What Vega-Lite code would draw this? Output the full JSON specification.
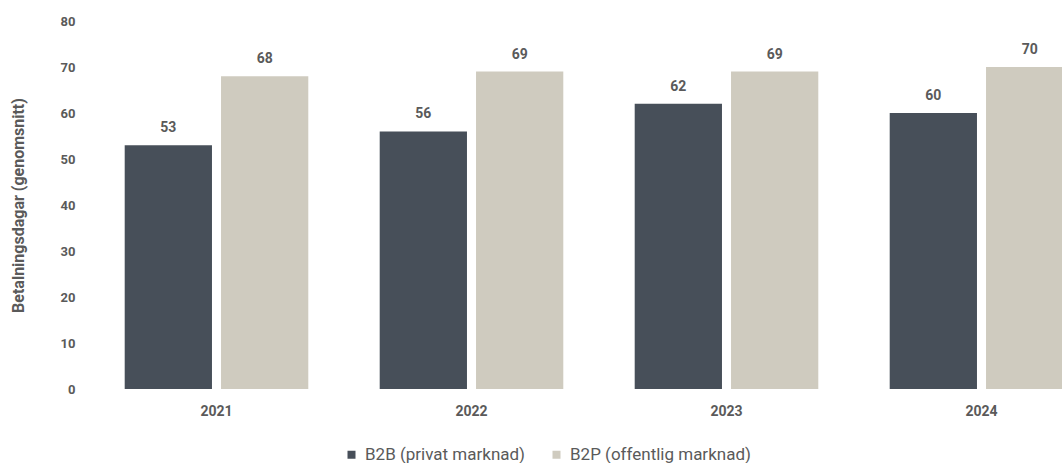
{
  "$schema": "https://vega.github.io/schema/vega-lite/v6.json",
  "autosize": {"type": "none"},
  "padding": {"left": 89, "top": 21, "right": 0, "bottom": 74},
  "width": 1020,
  "height": 368,
  "background": "white",
  "config": {
    "font": "Roboto",
    "view": {"stroke": null}
  },
  "data": {
    "values": [
      {"year": "2021", "series": "B2B (privat marknad)", "value": 53},
      {"year": "2021", "series": "B2P (offentlig marknad)", "value": 68},
      {"year": "2022", "series": "B2B (privat marknad)", "value": 56},
      {"year": "2022", "series": "B2P (offentlig marknad)", "value": 69},
      {"year": "2023", "series": "B2B (privat marknad)", "value": 62},
      {"year": "2023", "series": "B2P (offentlig marknad)", "value": 69},
      {"year": "2024", "series": "B2B (privat marknad)", "value": 60},
      {"year": "2024", "series": "B2P (offentlig marknad)", "value": 70}
    ]
  },
  "encoding": {
    "x": {
      "field": "year",
      "type": "nominal",
      "scale": {"paddingInner": 0.28, "paddingOuter": 0.14},
      "axis": {
        "title": null,
        "labelAngle": 0,
        "domain": false,
        "ticks": false,
        "tickSize": 0,
        "labelPadding": 15,
        "labelFontSize": 14,
        "labelFontWeight": "bold",
        "labelColor": "#5a5a5a"
      }
    },
    "xOffset": {
      "field": "series",
      "type": "nominal",
      "scale": {"paddingInner": 0.094, "paddingOuter": 0}
    },
    "y": {
      "field": "value",
      "type": "quantitative",
      "scale": {"domain": [0, 80]},
      "axis": {
        "title": "Betalningsdagar (genomsnitt)",
        "titleFontSize": 16,
        "titleFontWeight": "bold",
        "titleColor": "#5a5a5a",
        "titleX": -71,
        "titleY": 184,
        "titleBaseline": "middle",
        "titleAlign": "center",
        "values": [0, 10, 20, 30, 40, 50, 60, 70, 80],
        "domain": false,
        "ticks": false,
        "tickSize": 0,
        "grid": false,
        "labelAlign": "right",
        "labelPadding": 14,
        "labelFontSize": 13,
        "labelFontWeight": "bold",
        "labelColor": "#5a5a5a"
      }
    }
  },
  "layer": [
    {
      "mark": {"type": "bar"},
      "encoding": {
        "color": {
          "field": "series",
          "type": "nominal",
          "scale": {
            "domain": ["B2B (privat marknad)", "B2P (offentlig marknad)"],
            "range": ["#474f59", "#cfcbbf"]
          },
          "legend": {
            "title": null,
            "orient": "none",
            "direction": "horizontal",
            "legendX": 254,
            "legendY": 425,
            "symbolType": "square",
            "symbolSize": 64,
            "symbolStrokeWidth": 0,
            "labelFontSize": 17,
            "labelLimit": 400,
            "labelColor": "#5a5a5a",
            "labelOffset": 5,
            "columnPadding": 22
          }
        }
      }
    },
    {
      "mark": {
        "type": "text",
        "baseline": "bottom",
        "dy": -10,
        "fontSize": 14,
        "fontWeight": "bold",
        "color": "#5a5a5a"
      },
      "encoding": {
        "text": {"field": "value", "type": "quantitative"}
      }
    }
  ]
}
